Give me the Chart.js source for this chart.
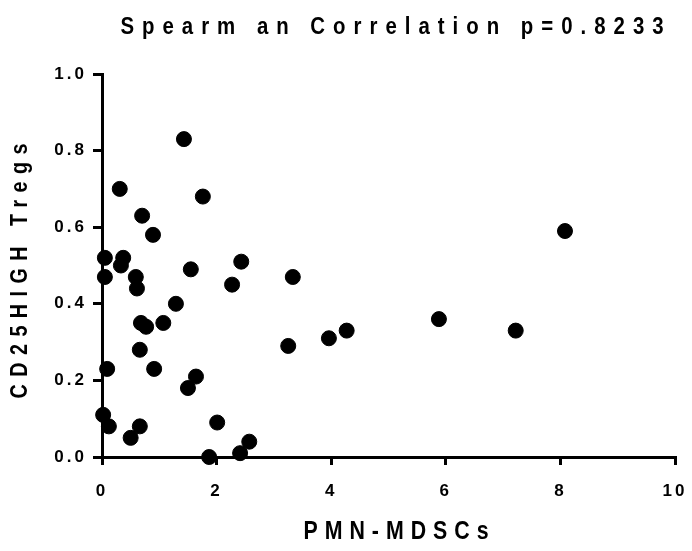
<!DOCTYPE html>
<html>
<head>
<meta charset="utf-8">
<script src="https://cdn.jsdelivr.net/npm/chart.js@4.4.1/dist/chart.umd.min.js"></script>
<style>
  html, body { margin: 0; padding: 0; background: #fff; }
  #wrap { width: 692px; height: 551px; }
</style>
</head>
<body>
<div id="wrap"><canvas id="scatterChart" width="692" height="551"></canvas></div>
<script>
// PMN-MDSCs (x) vs CD25HIGH Tregs (y), one entry per sample
const mdscValues = [
    1.43, 0.31, 1.76, 0.70, 0.89,
    0.05, 0.37, 0.33, 0.05, 0.59, 0.61, 1.55, 2.43, 2.27, 3.33,
    1.29, 0.68, 0.77, 1.07, 3.25, 0.66, 0.09, 0.91, 1.64, 1.50,
    0.02, 0.12, 0.66, 0.50, 2.01, 2.57, 1.87, 2.41,
    3.96, 4.27, 5.88, 7.22, 8.08
];
const tregValues = [
    0.83, 0.70, 0.68, 0.63, 0.58,
    0.52, 0.52, 0.50, 0.47, 0.47, 0.44, 0.49, 0.51, 0.45, 0.47,
    0.40, 0.35, 0.34, 0.35, 0.29, 0.28, 0.23, 0.23, 0.21, 0.18,
    0.11, 0.08, 0.08, 0.05, 0.09, 0.04, 0.00, 0.01,
    0.31, 0.33, 0.36, 0.33, 0.59
];
const xTicks = [0, 2, 4, 6, 8, 10];
const yTicks = [0, 0.2, 0.4, 0.6, 0.8, 1.0];

const chartTitle = 'Spearm an Correlation p=0.8233';
const xTitle = 'PMN-MDSCs';
const yTitle = 'CD25HIGH Tregs';

const FONT = '"Liberation Sans", Arial, sans-serif';

// bold, slightly narrowed text with wide tracking, centred on (cx, cy)
function drawSpaced(ctx, text, cx, cy, size, squeeze, spacing, angle) {
    ctx.save();
    ctx.font = 'bold ' + size + 'px ' + FONT;
    ctx.letterSpacing = (spacing / squeeze) + 'px';
    ctx.textAlign = 'left';
    ctx.textBaseline = 'middle';
    const w = ctx.measureText(text).width - spacing / squeeze;
    ctx.translate(cx, cy);
    ctx.rotate(angle || 0);
    ctx.scale(squeeze, 1);
    ctx.fillText(text, -w / 2, 0);
    ctx.restore();
}

const spacedTitles = {
    id: 'spacedTitles',
    beforeDraw(chart) {
        chart.ctx.letterSpacing = '3px';
    },
    afterDraw(chart) {
        const ctx = chart.ctx;
        ctx.fillStyle = '#000';
        drawSpaced(ctx, chartTitle, 392, 27, 24, 0.85, 8);
        drawSpaced(ctx, xTitle, 396, 532, 26, 0.82, 7);
        drawSpaced(ctx, yTitle, 20, 271, 24, 0.82, 7.5, -Math.PI / 2);
    }
};

const ctx = document.getElementById('scatterChart').getContext('2d');
new Chart(ctx, {
    type: 'scatter',
    data: {
        datasets: [{
            label: yTitle,
            data: mdscValues.map((x, i) => ({ x: x, y: tregValues[i] })),
            backgroundColor: '#000',
            borderColor: '#000',
            pointRadius: 7.5,
            pointHoverRadius: 7.5,
            clip: false
        }]
    },
    options: {
        responsive: false,
        animation: false,
        events: [],
        layout: {
            padding: { top: 74, right: 17, bottom: 0, left: 0 }
        },
        plugins: {
            legend: { display: false },
            title: { display: false },
            tooltip: { enabled: false }
        },
        scales: {
            x: {
                type: 'linear',
                min: 0,
                max: 10,
                afterBuildTicks: (scale) => { scale.ticks = xTicks.map(v => ({ value: v })); },
                afterFit: (scale) => {
                    scale.height = 94;
                    scale.paddingLeft = 0;
                    scale.paddingRight = 0;
                },
                border: { color: '#000', width: 3 },
                grid: {
                    drawOnChartArea: false,
                    drawTicks: true,
                    tickLength: 8,
                    lineWidth: 3,
                    color: '#000'
                },
                ticks: {
                    color: '#000',
                    padding: 16,
                    maxRotation: 0,
                    font: { family: FONT, size: 17, weight: 'bold' }
                }
            },
            y: {
                type: 'linear',
                min: 0,
                max: 1,
                afterBuildTicks: (scale) => { scale.ticks = yTicks.map(v => ({ value: v })); },
                afterFit: (scale) => { scale.width = 102; },
                border: { color: '#000', width: 3 },
                grid: {
                    drawOnChartArea: false,
                    drawTicks: true,
                    tickLength: 9,
                    lineWidth: 3,
                    color: '#000'
                },
                ticks: {
                    color: '#000',
                    padding: 6,
                    callback: (v) => Number(v).toFixed(1),
                    font: { family: FONT, size: 17, weight: 'bold' }
                }
            }
        }
    },
    plugins: [spacedTitles]
});
</script>
</body>
</html>
